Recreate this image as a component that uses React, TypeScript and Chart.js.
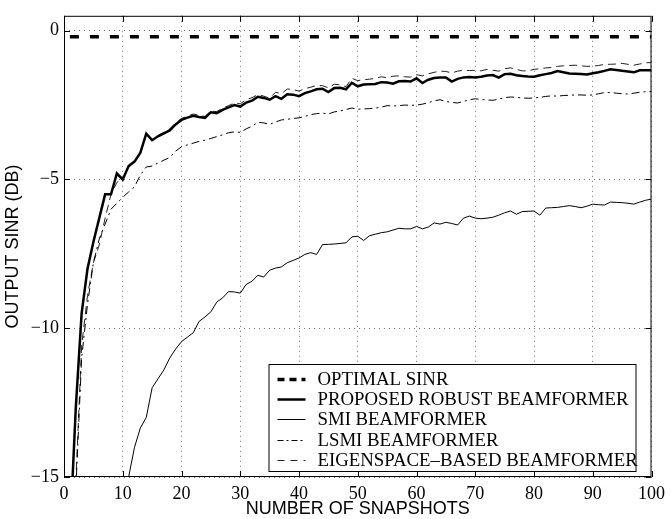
import React, { useEffect, useRef } from 'react';
import { Chart, registerables } from 'chart.js';

Chart.register(...registerables);

// Number of snapshots (x categories)
const snapshots: number[] = Array.from({ length: 100 }, (_, i) => i + 1);

const xTicks = [0, 10, 20, 30, 40, 50, 60, 70, 80, 90, 100];
const yTicks = [-15, -10, -5, 0];

// Optimal SINR (constant)
const optimalX = [1, 100];
const optimalY = [-0.2, -0.2];

// Proposed robust beamformer
const proposed = [
  -17.0, -12.7, -9.5, -8.0, -7.1, -6.3, -5.5, -5.5, -4.8, -5.0,
  -4.55, -4.4, -4.1, -3.46, -3.68, -3.55, -3.45, -3.35, -3.15, -3.0,
  -2.92, -2.86, -2.9, -2.93, -2.74, -2.77, -2.66, -2.58, -2.5, -2.55,
  -2.42, -2.35, -2.22, -2.26, -2.32, -2.2, -2.29, -2.14, -2.15, -2.2,
  -2.1, -2.04, -1.97, -1.95, -2.06, -1.93, -1.92, -1.97, -1.75, -1.87,
  -1.81, -1.8, -1.79, -1.73, -1.74, -1.78, -1.7, -1.69, -1.71, -1.6,
  -1.76, -1.65, -1.59, -1.57, -1.57, -1.71, -1.62, -1.57, -1.56, -1.57,
  -1.55, -1.51, -1.49, -1.58, -1.46, -1.45, -1.5, -1.52, -1.54, -1.55,
  -1.5, -1.46, -1.42, -1.36, -1.4, -1.44, -1.45, -1.46, -1.47, -1.43,
  -1.4, -1.35, -1.3, -1.32, -1.35, -1.37, -1.4, -1.33, -1.33, -1.33,
];

// SMI beamformer
const smi = [
  null, null, null, null, null, null, null, null, null, -16.4,
  -15.0, -14.0, -13.35, -13.0, -12.0, -11.7, -11.4, -11.0, -10.7, -10.45,
  -10.3, -10.15, -9.77, -9.62, -9.45, -9.12, -8.98, -8.77, -8.78, -8.82,
  -8.53, -8.42, -8.22, -8.28, -8.05, -7.98, -7.94, -7.8, -7.72, -7.64,
  -7.52, -7.46, -7.52, -7.19, -7.18, -7.17, -7.15, -7.13, -6.93, -6.91,
  -7.05, -6.89, -6.84, -6.79, -6.76, -6.7, -6.64, -6.66, -6.66, -6.58,
  -6.66, -6.6, -6.46, -6.5, -6.44, -6.48, -6.53, -6.3, -6.23, -6.3,
  -6.32, -6.3, -6.27, -6.2, -6.12, -6.06, -6.17, -6.08, -6.07, -6.06,
  -6.2, -5.96, -5.95, -5.94, -5.91, -5.88, -5.91, -5.95, -5.9, -5.83,
  -5.85, -5.86, -5.76, -5.77, -5.78, -5.8, -5.83, -5.76, -5.7, -5.66,
];

// LSMI beamformer
const lsmi = [
  -21.0, -15.5, -11.0, -9.2, -7.8, -7.0, -6.5, -6.0, -5.8, -5.6,
  -5.42, -5.25, -4.85, -4.58, -4.55, -4.45, -4.35, -4.26, -4.05, -3.9,
  -3.84, -3.78, -3.72, -3.68, -3.62, -3.56, -3.5, -3.43, -3.4, -3.42,
  -3.3, -3.21, -3.08, -3.1, -3.15, -3.07, -3.0, -2.98, -2.95, -2.93,
  -2.88, -2.82, -2.79, -2.77, -2.8, -2.73, -2.7, -2.65, -2.6, -2.64,
  -2.63, -2.62, -2.6, -2.57, -2.52, -2.53, -2.52, -2.5, -2.51, -2.5,
  -2.47, -2.42, -2.36, -2.32, -2.38, -2.41, -2.43, -2.38, -2.32, -2.29,
  -2.31, -2.33, -2.34, -2.3, -2.25, -2.23, -2.24, -2.26, -2.27, -2.26,
  -2.24, -2.21, -2.19, -2.2, -2.18, -2.17, -2.16, -2.16, -2.17, -2.16,
  -2.12, -2.08, -2.08, -2.1, -2.12, -2.13, -2.1, -2.07, -2.05, -2.05,
];

// Eigenspace-based beamformer
const eigen = [
  -20.0, -15.2, -10.6, -8.9, -7.8, -7.2, -6.3, -5.5, -5.1, -4.95,
  -4.6, -4.4, -4.1, -3.5, -3.68, -3.52, -3.42, -3.3, -3.1, -2.95,
  -2.87, -2.8, -2.85, -2.88, -2.7, -2.72, -2.6, -2.52, -2.43, -2.46,
  -2.32, -2.25, -2.15, -2.2, -2.27, -2.07, -2.12, -1.96, -1.98, -2.03,
  -1.95, -1.9, -1.84, -1.85, -1.92, -1.8, -1.82, -1.88, -1.6, -1.68,
  -1.65, -1.63, -1.6, -1.55, -1.58, -1.53, -1.52, -1.55, -1.56, -1.48,
  -1.52, -1.45, -1.4, -1.36, -1.37, -1.42, -1.36, -1.33, -1.34, -1.33,
  -1.35, -1.3, -1.33, -1.36, -1.28, -1.25, -1.3, -1.35, -1.35, -1.3,
  -1.28, -1.25, -1.24, -1.2, -1.18, -1.17, -1.16, -1.18, -1.2, -1.19,
  -1.17, -1.13, -1.13, -1.12, -1.1, -1.13, -1.16, -1.12, -1.08, -1.07,
];

const seriesLabels = [
  'OPTIMAL SINR',
  'PROPOSED ROBUST BEAMFORMER',
  'SMI BEAMFORMER',
  'LSMI BEAMFORMER',
  'EIGENSPACE\u2013BASED BEAMFORMER',
];

const serif = "'Liberation Serif', 'DejaVu Serif', serif";
const sans = "'Liberation Sans', Arial, sans-serif";

const toPoints = (xs: number[], ys: (number | null)[]) =>
  xs.map((x, i) => ({ x, y: ys[i] }));

const frameTicksPlugin = {
  id: 'frameTicks',
  afterDatasetsDraw(chart: any) {
    const { ctx, chartArea, scales } = chart;
    const { left, right, top, bottom } = chartArea;
    ctx.save();
    ctx.strokeStyle = '#000';
    ctx.lineWidth = 1;
    ctx.setLineDash([]);
    ctx.beginPath();
    ctx.rect(left + 0.5, top + 0.5, right - left - 1, bottom - top - 1);
    ctx.stroke();
    const len = 6;
    ctx.beginPath();
    xTicks.forEach((v) => {
      const px = Math.round(scales.x.getPixelForValue(v)) + 0.5;
      ctx.moveTo(px, bottom);
      ctx.lineTo(px, bottom - len);
      ctx.moveTo(px, top);
      ctx.lineTo(px, top + len);
    });
    yTicks.forEach((v) => {
      const py = Math.round(scales.y.getPixelForValue(v)) + 0.5;
      ctx.moveTo(left, py);
      ctx.lineTo(left + len, py);
      ctx.moveTo(right, py);
      ctx.lineTo(right - len, py);
    });
    ctx.stroke();
    ctx.restore();
  },
};

const boxLegendPlugin = {
  id: 'boxLegend',
  afterDraw(chart: any) {
    const { ctx, chartArea } = chart;
    const w = 367;
    const h = 107;
    const x0 = chartArea.right - 16 - w;
    const y0 = chartArea.bottom - 6 - h;
    ctx.save();
    ctx.fillStyle = '#fff';
    ctx.fillRect(x0, y0, w, h);
    ctx.strokeStyle = '#000';
    ctx.lineWidth = 1;
    ctx.setLineDash([]);
    ctx.strokeRect(x0 + 0.5, y0 + 0.5, w, h);
    ctx.font = `18.8px ${serif}`;
    ctx.textBaseline = 'middle';
    ctx.textAlign = 'left';
    chart.data.datasets.forEach((ds: any, i: number) => {
      const cy = Math.round(y0 + 15 + i * 20.2) + 0.5;
      ctx.beginPath();
      ctx.strokeStyle = ds.borderColor;
      ctx.lineWidth = ds.borderWidth;
      ctx.setLineDash(ds.legendDash || ds.borderDash || []);
      ctx.moveTo(x0 + 9, cy);
      ctx.lineTo(x0 + 37, cy);
      ctx.stroke();
      ctx.setLineDash([]);
      ctx.fillStyle = '#000';
      ctx.fillText(ds.label, x0 + 49, cy + 1);
    });
    ctx.restore();
  },
};

export default function App() {
  const canvasRef = useRef<HTMLCanvasElement | null>(null);

  useEffect(() => {
    const canvas = canvasRef.current;
    if (!canvas) return;
    const gridColor = 'rgba(0,0,0,0.55)';
    const chart = new Chart(canvas, {
      type: 'line',
      data: {
        datasets: [
          {
            label: seriesLabels[0],
            data: toPoints(optimalX, optimalY),
            borderColor: '#000',
            borderWidth: 3.5,
            borderDash: [9, 11],
            legendDash: [7, 5],
          } as any,
          {
            label: seriesLabels[1],
            data: toPoints(snapshots, proposed),
            borderColor: '#000',
            borderWidth: 2.5,
          },
          {
            label: seriesLabels[2],
            data: toPoints(snapshots, smi),
            borderColor: '#000',
            borderWidth: 1,
          },
          {
            label: seriesLabels[3],
            data: toPoints(snapshots, lsmi),
            borderColor: '#000',
            borderWidth: 1,
            borderDash: [8, 4, 2, 4],
            legendDash: [6, 3, 2, 3],
          } as any,
          {
            label: seriesLabels[4],
            data: toPoints(snapshots, eigen),
            borderColor: '#222',
            borderWidth: 1,
            borderDash: [8, 5],
            legendDash: [7, 6],
          } as any,
        ],
      },
      options: {
        responsive: false,
        animation: false,
        spanGaps: false,
        elements: {
          point: { radius: 0, hoverRadius: 0 },
          line: { tension: 0, fill: false },
        },
        layout: { padding: { left: 0, top: 10, right: 15, bottom: 0 } },
        plugins: {
          legend: { display: false },
          tooltip: { enabled: false },
        },
        scales: {
          x: {
            type: 'linear',
            min: 0,
            max: 100,
            afterFit: (scale: any) => {
              scale.height = 42;
            },
            afterBuildTicks: (scale: any) => {
              scale.ticks = xTicks.map((v) => ({ value: v }));
            },
            ticks: {
              autoSkip: false,
              maxRotation: 0,
              padding: 6,
              color: '#000',
              font: { family: serif, size: 18 },
              callback: (v: any) => String(v),
            },
            grid: {
              drawTicks: false,
              color: gridColor,
              lineWidth: 1,
            },
            border: { display: false, dash: [1, 4] },
            title: {
              display: true,
              text: 'NUMBER OF SNAPSHOTS',
              color: '#000',
              font: { family: sans, size: 18 },
              padding: { top: 0, bottom: -1 },
            },
          },
          y: {
            type: 'linear',
            min: -15,
            max: 0.5,
            afterFit: (scale: any) => {
              scale.width = 64;
            },
            afterBuildTicks: (scale: any) => {
              scale.ticks = yTicks.map((v) => ({ value: v }));
            },
            ticks: {
              padding: 5,
              color: '#000',
              font: { family: serif, size: 18 },
              callback: (v: any) => (v < 0 ? '\u2212' + Math.abs(v) : String(v)),
            },
            grid: {
              drawTicks: false,
              color: gridColor,
              lineWidth: 1,
            },
            border: { display: false, dash: [1, 4] },
            title: {
              display: true,
              text: 'OUTPUT SINR (DB)',
              color: '#000',
              font: { family: sans, size: 18 },
              padding: { top: 2, bottom: 0 },
            },
          },
        },
      } as any,
      plugins: [frameTicksPlugin, boxLegendPlugin],
    });
    return () => chart.destroy();
  }, []);

  return (
    <div style={{ position: 'fixed', left: 0, top: 0, width: 671, height: 519, background: '#fff' }}>
      <canvas ref={canvasRef} width={671} height={519} style={{ display: 'block' }} />
    </div>
  );
}
